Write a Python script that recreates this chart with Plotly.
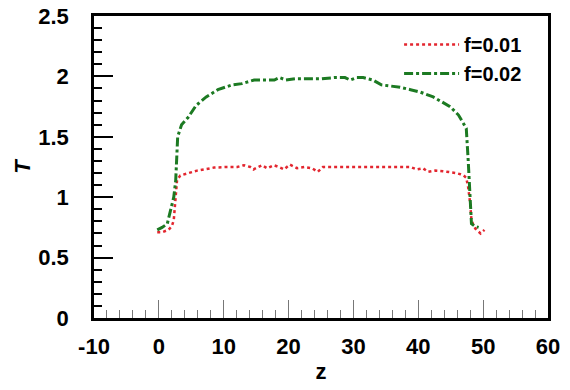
import plotly.graph_objects as go

# f = 0.01 (red, dotted)
z_red = [-0.25, 0.5, 1.5, 2.0, 2.3, 2.6, 2.8, 3.3, 4.5, 5.9, 7.0, 8.5, 10.5, 12.1, 13.1, 14.1, 14.6,
         15.9, 16.7, 17.7, 18.5, 19.3, 20.2, 21.3, 22.5, 23.6, 24.5, 25.3, 27.0, 30.0, 33.0, 36.0,
         38.8, 39.8, 40.7, 41.5, 42.6, 43.8, 44.9, 45.8, 46.5, 47.0, 47.4, 47.7, 48.0, 48.2, 48.5,
         48.8, 49.2, 49.6, 50.2]
T_red = [0.71, 0.71, 0.73, 0.76, 0.81, 1.00, 1.14, 1.18, 1.20, 1.22, 1.23, 1.245, 1.25, 1.25, 1.265, 1.25, 1.23,
         1.265, 1.24, 1.265, 1.25, 1.23, 1.27, 1.24, 1.25, 1.24, 1.21, 1.25, 1.25, 1.25, 1.25, 1.25,
         1.25, 1.23, 1.24, 1.21, 1.22, 1.215, 1.21, 1.20, 1.19, 1.18, 1.16, 1.08, 0.95, 0.81, 0.77,
         0.74, 0.72, 0.70, 0.73]

# f = 0.02 (green, dash-dot)
z_green = [-0.25, 0.5, 1.3, 1.8, 2.3, 2.6, 2.8, 2.9, 3.5, 4.5, 5.75, 7.3, 9.1, 11.3, 12.8, 14.7, 16.5,
           17.8, 18.6, 19.6, 21.0, 23.1, 25.0, 27.0, 28.7, 29.5, 30.5, 31.5, 33.0, 34.3, 35.6, 37.2,
           38.8, 40.3, 42.3, 43.6, 44.9, 46.2, 46.8, 47.4, 47.7, 48.0, 48.2, 48.7, 49.3]
T_green = [0.73, 0.75, 0.78, 0.88, 1.00, 1.14, 1.39, 1.50, 1.60, 1.66, 1.76, 1.83, 1.89, 1.93, 1.94, 1.97, 1.97,
           1.97, 1.99, 1.97, 1.98, 1.98, 1.98, 1.99, 1.99, 1.97, 1.99, 1.99, 1.97, 1.93, 1.92, 1.91,
           1.89, 1.87, 1.83, 1.79, 1.75, 1.68, 1.63, 1.57, 1.30, 1.00, 0.78, 0.76, 0.75]

x_ticks = [-10, 0, 10, 20, 30, 40, 50, 60]
y_ticks = [0, 0.5, 1, 1.5, 2, 2.5]
y_tick_labels = ["0", "0.5", "1", "1.5", "2", "2.5"]

FONT = "Liberation Sans, Arial, sans-serif"
FS = 22

fig = go.Figure()
fig.add_trace(go.Scatter(x=z_red, y=T_red, mode="lines", name="f=0.01",
                         line=dict(color="#e3262f", width=2.5, dash="dot")))
fig.add_trace(go.Scatter(x=z_green, y=T_green, mode="lines", name="f=0.02",
                         line=dict(color="#1c7a22", width=3, dash="dashdot")))

fig.update_layout(
    width=570, height=390,
    margin=dict(l=94, r=22, t=16, b=72, autoexpand=False),
    paper_bgcolor="white", plot_bgcolor="white",
    font=dict(family=FONT, size=FS, color="black", weight="bold"),
    legend=dict(x=0.672, y=0.97, xanchor="left", yanchor="top",
                bgcolor="rgba(0,0,0,0)", itemwidth=55,
                font=dict(family=FONT, size=20, color="black", weight="bold"),
                tracegroupgap=0),
    showlegend=True,
)

fig.update_xaxes(
    range=[-10, 60], tickvals=x_ticks, ticktext=[str(v) for v in x_ticks],
    ticks="inside", ticklen=18, tickwidth=1, tickcolor="#777777",
    minor=dict(dtick=2, tick0=0, ticks="inside", ticklen=8, tickwidth=1, tickcolor="#777777"),
    showline=True, linewidth=2.5, linecolor="black", mirror=True,
    showgrid=False, zeroline=False, automargin=False,
    ticklabelstandoff=7, ticklabeloverflow="allow",
    tickfont=dict(family=FONT, size=FS, color="black", weight="bold"),
    title=dict(text="z", standoff=6, font=dict(family=FONT, size=FS, color="black", weight="bold")),
)
fig.update_yaxes(
    range=[0, 2.5], tickvals=y_ticks, ticktext=y_tick_labels,
    ticks="inside", ticklen=19, tickwidth=2, tickcolor="black",
    minor=dict(dtick=0.1, tick0=0, ticks="inside", ticklen=8, tickwidth=1.5, tickcolor="black"),
    showline=True, linewidth=2.5, linecolor="black", mirror=True,
    showgrid=False, zeroline=False, automargin=False,
    ticklabelstandoff=18, ticklabeloverflow="allow",
    tickfont=dict(family=FONT, size=FS, color="black", weight="bold"),
    title=dict(text="<i>T</i>", standoff=2, font=dict(family=FONT, size=FS, color="black", weight="bold")),
)

# remove the page's default 8px body margin so the 570x390 figure fills the window
fig.write_html("out.html", config={"displayModeBar": False},
               post_script="document.body.style.margin='0';")
